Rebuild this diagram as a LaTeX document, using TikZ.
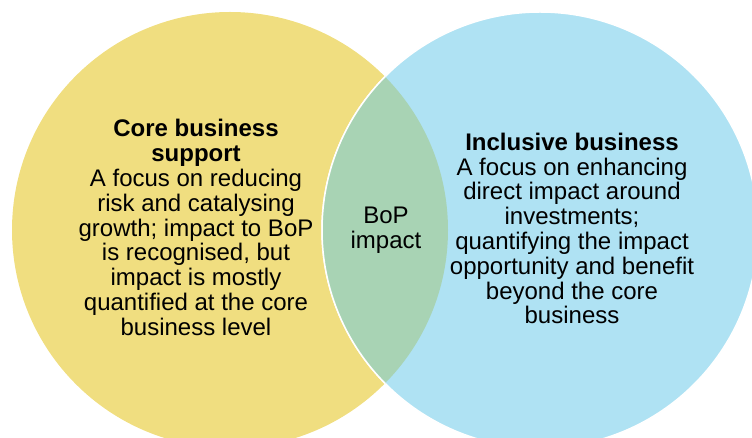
\documentclass[tikz,border=0pt]{standalone}
\usepackage{fontspec}
\setmainfont{Liberation Sans}
\definecolor{coreyellow}{RGB}{240,222,128}
\definecolor{inclblue}{RGB}{175,226,243}
\definecolor{bopgreen}{RGB}{168,211,180}
\tikzset{
  venn/.style={circle,minimum size=436pt,inner sep=0pt},
  vlabel/.style={align=center,font=\fontsize{24}{24.8}\selectfont}
}

\begin{document}
\begin{tikzpicture}[x=1pt,y=1pt]
\useasboundingbox (0,0) rectangle (752,438);
\node[venn,fill=coreyellow] (core) at (230,208) {};
\node[venn,fill=inclblue,draw=white,line width=1.5pt] (incl) at (540,208) {};
% overlap of the two circles
\begin{scope}
\clip (core.center) circle (218pt);
\fill[bopgreen,draw=white,line width=1.5pt] (incl.center) circle (218pt);
\end{scope}
\node[vlabel] (coretxt) at (196,210.5) {\textbf{Core business}\\\textbf{support}\\A focus on reducing\\risk and catalysing\\growth; impact to BoP\\is recognised, but\\impact is mostly\\quantified at the core\\business level};
\node[vlabel] (bop) at (386,207.5) {BoP\\impact};
\node[vlabel] (incltxt) at (572,209.5) {\textbf{Inclusive business}\\A focus on enhancing\\direct impact around\\investments;\\quantifying the impact\\opportunity and benefit\\beyond the core\\business};
\end{tikzpicture}
\end{document}
